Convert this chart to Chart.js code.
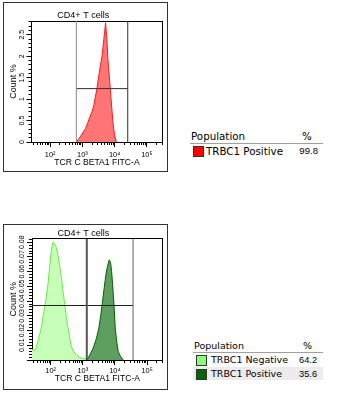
<!DOCTYPE html>
<html>
<head>
<meta charset="utf-8">
<script src="https://cdn.jsdelivr.net/npm/chart.js@4.4.1/dist/chart.umd.min.js"></script>
<style>
  html, body { margin: 0; padding: 0; background: #fff; }
  body { width: 338px; height: 398px; position: relative; overflow: hidden; }
  .box { position: absolute; border: 1px solid #333; background: #fff; }
  .box canvas { position: absolute; left: 0; top: 0; }
  .tbl { position: absolute; font-family: "DejaVu Sans", sans-serif; color: #000; }
  .t { position: absolute; white-space: nowrap; line-height: 12px; }
  .v { font-family: "Liberation Sans", Arial, sans-serif; }
  .rule { position: absolute; height: 1px; background: #a0a0a0; }
  .sw { position: absolute; box-sizing: border-box; border: 1px solid #333; }
  .rowbg { position: absolute; background: #ececec; }
</style>
</head>
<body>
<div class="box" style="left:3px;top:2px;width:163px;height:168px;"><canvas id="c1" width="163" height="168"></canvas></div>
<div class="box" style="left:3px;top:224px;width:163px;height:164px;"><canvas id="c2" width="163" height="164"></canvas></div>

<div class="tbl" id="legend1" style="font-size:10.3px;"></div>
<div class="tbl" id="legend2" style="font-size:9.5px;"></div>

<script>
// ---------------- data ----------------
const panelTitle = 'CD4+ T cells';
const xAxisTitle = 'TCR C BETA1 FITC-A';
const yAxisTitle = 'Count %';
const xRange = [26.4, 305000];
const xTickValues = [100, 1000, 10000, 100000];
const xTickLabels = ['10²', '10³', '10⁴', '10⁵'];

// panel 1 (TRBC1 positive only)
const p1YMax = 2.82;
const p1YTicks = [0, 0.5, 1, 1.5, 2, 2.5];
const p1YLabels = ['0', '0.5', '1', '1.5', '2', '2.5'];
const posFitc1 = [649, 805, 1021, 1240, 1466, 1742, 2011, 2255, 2494, 2798, 3229, 3652, 4067, 4630, 4943, 5233, 5744, 6178, 7345, 8852, 10000, 11300];
const posCount1 = [0, 0.09, 0.21, 0.31, 0.45, 0.6, 0.72, 0.85, 1.03, 1.23, 1.55, 1.8, 2.0, 2.4, 2.6, 2.78, 2.4, 1.93, 1.23, 0.45, 0.15, 0];
const p1GateX = [649, 25500];
const p1GateY = 1.244;
const p1GateYFrom = 649;

// panel 2 (TRBC1 negative / positive)
const p2YMax = 0.0825;
const p2YTicks = [0, 0.01, 0.02, 0.03, 0.04, 0.05, 0.06, 0.07, 0.08];
const p2YLabels = ['', '0.01', '0.02', '0.03', '0.04', '0.05', '0.06', '0.07', '0.08'];
const negFitc2 = [26.4, 27.4, 34, 40.1, 51.2, 57.4, 69.8, 82.4, 93.1, 105, 118, 133, 151, 169, 191, 216, 242, 274, 310, 347, 393, 443, 523, 636, 805, 1021, 1240, 1334];
const negCount2 = [0.007, 0.007, 0.0068, 0.0125, 0.0217, 0.0286, 0.04, 0.051, 0.063, 0.074, 0.08, 0.079, 0.0765, 0.071, 0.064, 0.056, 0.047, 0.038, 0.029, 0.022, 0.015, 0.009, 0.0057, 0.0034, 0.0018, 0.0011, 0.0007, 0.0005];
const posFitc2 = [1334, 1654, 2099, 2681, 3162, 3652, 4130, 4634, 5233, 5912, 6635, 7345, 7891, 8476, 9306, 10210, 11300, 12670, 15060, 18160];
const posCount2 = [0, 0.0034, 0.008, 0.015, 0.0217, 0.031, 0.04, 0.049, 0.058, 0.064, 0.068, 0.066, 0.06, 0.051, 0.038, 0.0217, 0.0125, 0.0057, 0.0023, 0];
const p2GateX = [1334, 36500];
const p2GateY = 0.037;
const p2GateYFrom = 26.4;

const legend1Rows = [['TRBC1 Positive', '99.8', '#ff0000']];
const legend2Rows = [['TRBC1 Negative', '64.2', '#88ff77'], ['TRBC1 Positive', '35.6', '#006600']];

// ---------------- helpers ----------------
const CF = 'Liberation Sans, Arial, sans-serif';

function pts(xs, ys) { return xs.map((x, i) => ({x: x, y: ys[i]})); }

function logMinorTicks(min, max) {
  const out = [];
  for (let e = Math.floor(Math.log10(min)); e <= Math.ceil(Math.log10(max)); e++) {
    for (let m = 1; m <= 9; m++) {
      const v = m * Math.pow(10, e);
      if (v >= min && v <= max) out.push({value: v});
    }
  }
  return out;
}
function linMinorTicks(max, step) {
  const out = [];
  const n = Math.floor(max / step + 1e-9);
  for (let i = 0; i <= n; i++) out.push({value: +(i * step).toFixed(6)});
  return out;
}

function gateDatasets(gx, gy, gyFrom, yMax, colors) {
  return [
    {data: [{x: gx[0], y: 0}, {x: gx[0], y: yMax}], borderColor: colors[0], borderWidth: colors[3]},
    {data: [{x: gx[1], y: 0}, {x: gx[1], y: yMax}], borderColor: colors[1], borderWidth: 1},
    {data: [{x: gyFrom, y: gy}, {x: gx[1], y: gy}], borderColor: colors[2], borderWidth: 1}
  ].map(d => Object.assign(d, {pointRadius: 0, fill: false, tension: 0}));
}

function makeChart(id, cfg) {
  const xTickFont = {family: CF, size: 7.4};
  const yTickFont = {family: CF, size: 7};
  const datasets = gateDatasets(cfg.gateX, cfg.gateY, cfg.gateYFrom, cfg.yMax, cfg.gateColors)
    .concat(cfg.hists.map(h => ({
      data: pts(h.x, h.y), borderColor: h.line, backgroundColor: h.fill,
      borderWidth: 1, fill: 'origin', pointRadius: 0, tension: 0
    })));
  return new Chart(document.getElementById(id), {
    type: 'line',
    data: {datasets: datasets},
    options: {
      responsive: false, animation: false, devicePixelRatio: 1,
      layout: {padding: {left: 0, right: cfg.padRight, top: 0, bottom: 0}},
      plugins: {
        legend: {display: false}, tooltip: {enabled: false},
        title: {display: true, text: panelTitle, color: '#000',
          font: {family: CF, size: 9, weight: 'normal', lineHeight: 1},
          padding: {top: cfg.titleTop, bottom: cfg.titleBottom}}
      },
      scales: {
        x: {type: 'logarithmic', position: 'bottom', min: xRange[0], max: xRange[1], weight: 0,
          afterBuildTicks: s => { s.ticks = logMinorTicks(xRange[0], xRange[1]); },
          afterFit: s => { s.height = 0; },
          grid: {drawOnChartArea: false, tickLength: 3, color: '#000'},
          border: {display: true, color: '#000'}, ticks: {display: false}},
        xMajor: {type: 'logarithmic', position: 'bottom', min: xRange[0], max: xRange[1], weight: 1,
          afterBuildTicks: s => { s.ticks = xTickValues.map(v => ({value: v})); },
          afterFit: s => { s.height = cfg.xAxisH; },
          grid: {drawOnChartArea: false, tickLength: 5, color: '#000'},
          border: {display: false},
          ticks: {autoSkip: false, maxRotation: 0, minRotation: 0, color: '#000', font: xTickFont,
            padding: cfg.xTickPad, callback: (v, i) => xTickLabels[i]},
          title: {display: true, text: xAxisTitle, color: '#000',
            font: {family: CF, size: 8.6, lineHeight: 1}, padding: {top: 0, bottom: cfg.xTitlePad}}},
        xTop: {type: 'linear', position: 'top', weight: 0, afterFit: s => { s.height = 0; },
          grid: {drawOnChartArea: false, drawTicks: false}, ticks: {display: false},
          border: {display: true, color: '#000'}},
        y: {type: 'linear', position: 'left', min: 0, max: cfg.yMax, weight: 0,
          afterBuildTicks: s => { s.ticks = linMinorTicks(cfg.yMax, cfg.yMinorStep); },
          afterFit: s => { s.width = 0; },
          grid: {drawOnChartArea: false, tickLength: 3, color: '#000'},
          border: {display: true, color: '#000'}, ticks: {display: false}},
        yMajor: {type: 'linear', position: 'left', min: 0, max: cfg.yMax, weight: 1,
          afterBuildTicks: s => { s.ticks = cfg.yTicks.map(v => ({value: v})); },
          afterFit: s => { s.width = cfg.yAxisW; },
          grid: {drawOnChartArea: false, tickLength: 5, color: '#000'},
          border: {display: false},
          ticks: {autoSkip: false, minRotation: 90, maxRotation: 90, crossAlign: 'center',
            color: '#000', font: yTickFont, padding: cfg.yTickPad,
            callback: (v, i) => cfg.yLabels[i]},
          title: {display: true, text: yAxisTitle, color: '#000',
            font: {family: CF, size: 9, lineHeight: 1}, padding: {top: cfg.yTitlePad, bottom: 0}}},
        yRight: {type: 'linear', position: 'right', weight: 0, afterFit: s => { s.width = 0; },
          grid: {drawOnChartArea: false, drawTicks: false}, ticks: {display: false},
          border: {display: true, color: '#000'}}
      }
    }
  });
}

makeChart('c1', {
  yMax: p1YMax, yTicks: p1YTicks, yLabels: p1YLabels, yMinorStep: 0.1,
  gateX: p1GateX, gateY: p1GateY, gateYFrom: p1GateYFrom, gateColors: ['#8a8a8a', '#303030', '#303030', 1],
  hists: [{x: posFitc1, y: posCount1, line: '#ff1a1a', fill: '#ff7474'}],
  padRight: 4.5, titleTop: 8, titleBottom: 1, xAxisH: 29, yAxisW: 27.5,
  xTickPad: 3.5, xTitlePad: 4.2, yTickPad: 0, yTitlePad: 5.5
});
makeChart('c2', {
  yMax: p2YMax, yTicks: p2YTicks, yLabels: p2YLabels, yMinorStep: 0.002,
  gateX: p2GateX, gateY: p2GateY, gateYFrom: p2GateYFrom, gateColors: ['#555555', '#606060', '#202020', 2],
  hists: [{x: negFitc2, y: negCount2, line: '#66ee44', fill: '#c8ffb8'},
          {x: posFitc2, y: posCount2, line: '#006400', fill: '#5e9e5e'}],
  padRight: 4.3, titleTop: 4.5, titleBottom: 0, xAxisH: 29, yAxisW: 28,
  xTickPad: 2, xTitlePad: 6.5, yTickPad: -2.3, yTitlePad: 5.5
});

// ---------------- legend tables ----------------
function buildLegend(elId, rows, g) {
  const el = document.getElementById(elId);
  let h = '';
  h += `<div class="t" style="left:${g.x}px;top:${g.y}px;">Population</div>`;
  h += `<div class="t" style="left:${g.pctX}px;top:${g.y}px;">%</div>`;
  h += `<div class="rule" style="left:${g.ruleX}px;top:${g.ruleY}px;width:${g.ruleW}px;"></div>`;
  rows.forEach((r, i) => {
    const ry = g.rowY + i * g.rowH;
    if (i % 2 === 1) h += `<div class="rowbg" style="left:${g.ruleX}px;top:${ry - 2}px;width:${g.ruleW}px;height:${g.rowH}px;"></div>`;
    h += `<div class="sw" style="left:${g.swX}px;top:${ry}px;width:${g.sw}px;height:${g.sw}px;background:${r[2]};"></div>`;
    h += `<div class="t" style="left:${g.textX}px;top:${ry - 1}px;">${r[0]}</div>`;
    h += `<div class="t v" style="left:${g.valR - 40}px;width:40px;text-align:right;top:${ry - 1}px;font-size:${g.valSize}px;">${r[1]}</div>`;
  });
  el.innerHTML = h;
}
buildLegend('legend1', legend1Rows, {x: 191, y: 130, pctX: 302, ruleX: 190, ruleY: 143, ruleW: 133,
  rowY: 146, rowH: 13, swX: 193, sw: 11, textX: 206, valR: 318, valSize: 9.6});
buildLegend('legend2', legend2Rows, {x: 194, y: 340, pctX: 303, ruleX: 193, ruleY: 352, ruleW: 130,
  rowY: 355, rowH: 13.5, swX: 196, sw: 11, textX: 211, valR: 317, valSize: 9.2});
</script>
</body>
</html>
